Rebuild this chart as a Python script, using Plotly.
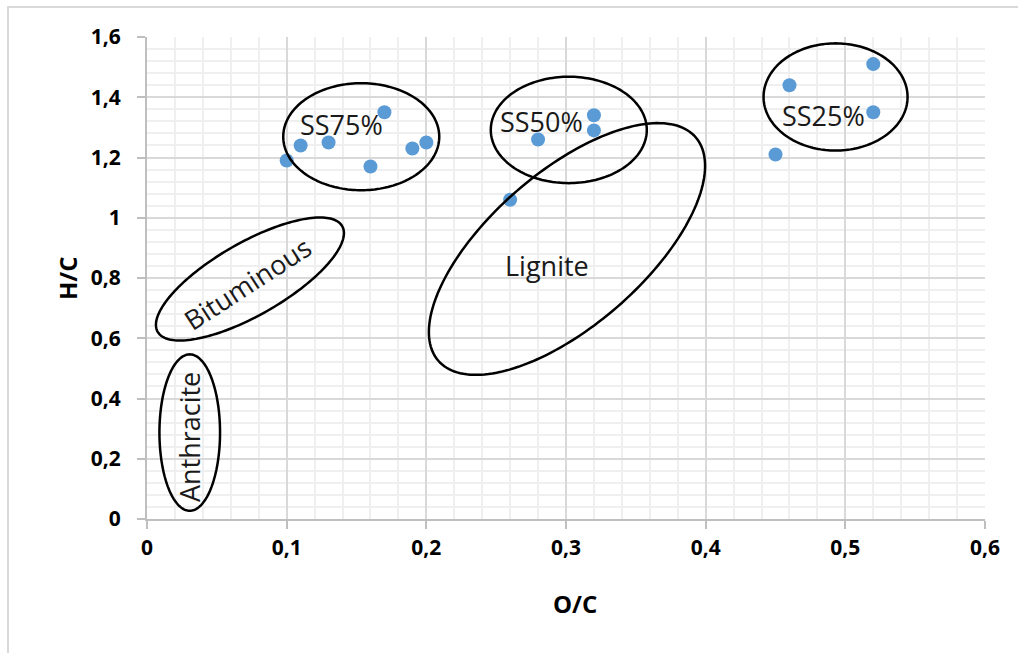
import numpy as np
import plotly.graph_objects as go

# ---- data ----
oc = [0.10, 0.11, 0.13, 0.16, 0.17, 0.19, 0.20, 0.26, 0.28, 0.32, 0.32, 0.45, 0.46, 0.52, 0.52]
hc = [1.19, 1.24, 1.25, 1.17, 1.35, 1.23, 1.25, 1.06, 1.26, 1.34, 1.29, 1.21, 1.44, 1.51, 1.35]

x_tick_vals = [0, 0.1, 0.2, 0.3, 0.4, 0.5, 0.6]
y_tick_vals = [0, 0.2, 0.4, 0.6, 0.8, 1.0, 1.2, 1.4, 1.6]

region_names = ["SS75%", "SS50%", "SS25%", "Lignite", "Bituminous", "Anthracite"]
ell_cx = [0.1534, 0.302, 0.493, 0.3007, 0.0737, 0.0306]
ell_cy = [1.269, 1.2915, 1.401, 0.8963, 0.7967, 0.287]
ell_a_px = [78, 78, 72, 170.4, 106.3, 30.3]
ell_b_px = [53.5, 53.2, 53.6, 76.7, 36.3, 78.2]
ell_angle = [0, 0, 0, 41, 29.8, 0]
label_x = [0.1389, 0.2828, 0.4844, 0.2864, 0.0716, 0.0301]
label_y = [1.311, 1.321, 1.338, 0.843, 0.783, 0.272]
label_angle = [0, 0, 0, 0, -33, -90]

# ---- layout geometry ----
W, H = 1018, 653
ML, MR, MT, MB = 147, 33, 37, 134
XR = [0, 0.6]
YR = [0, 1.6]
PW, PH = W - ML - MR, H - MT - MB
kx = PW / (XR[1] - XR[0])
ky = PH / (YR[1] - YR[0])

FONT = "Open Sans"

fig = go.Figure()
fig.add_trace(go.Scatter(
    x=oc, y=hc, mode="markers",
    marker=dict(size=14, color="#5B9BD5", line=dict(width=0)),
    showlegend=False, cliponaxis=False,
))

shapes = []
t = np.linspace(0, 2 * np.pi, 181)
for cx, cy, a, b, ang in zip(ell_cx, ell_cy, ell_a_px, ell_b_px, ell_angle):
    th = np.deg2rad(ang)
    dx = a * np.cos(t) * np.cos(th) - b * np.sin(t) * np.sin(th)
    dy = a * np.cos(t) * np.sin(th) + b * np.sin(t) * np.cos(th)
    xs = cx + dx / kx
    ys = cy + dy / ky
    path = "M " + " L ".join(f"{x:.5f},{y:.5f}" for x, y in zip(xs, ys)) + " Z"
    shapes.append(dict(type="path", xref="x", yref="y", path=path,
                       line=dict(color="#000000", width=2.5), layer="above"))

# outer chart frame
shapes.append(dict(type="rect", xref="paper", yref="paper",
                   x0=(8 - ML) / PW, x1=(W + 20 - ML) / PW,
                   y0=(H - MB - (H + 20)) / PH, y1=(H - MB - 7) / PH,
                   line=dict(color="#d9d9d9", width=2), layer="below"))

annotations = []
for name, lx, ly, la in zip(region_names, label_x, label_y, label_angle):
    annotations.append(dict(x=lx, y=ly, xref="x", yref="y", text=name, showarrow=False,
                            textangle=la, font=dict(family=FONT, size=27, color="#1a1a1a"),
                            xanchor="center", yanchor="middle"))

annotations.append(dict(x=(575 - ML) / PW, y=(H - MB - 603) / PH,
                        xref="paper", yref="paper", text="O/C", showarrow=False,
                        font=dict(family=FONT, size=24, color="#000000", weight="bold"),
                        xanchor="center", yanchor="middle"))
annotations.append(dict(x=(67 - ML) / PW, y=(H - MB - 278) / PH,
                        xref="paper", yref="paper", text="H/C", showarrow=False, textangle=-90,
                        font=dict(family=FONT, size=24, color="#000000", weight="bold"),
                        xanchor="center", yanchor="middle"))

fig.update_layout(
    width=W, height=H,
    margin=dict(l=ML, r=MR, t=MT, b=MB),
    paper_bgcolor="white", plot_bgcolor="white",
    separators=", ",
    shapes=shapes, annotations=annotations,
    xaxis=dict(range=XR, tickvals=x_tick_vals, showgrid=True, gridcolor="#d9d9d9", gridwidth=1.5,
               minor=dict(dtick=0.02, showgrid=True, gridcolor="#efefef", gridwidth=1.5),
               showline=True, linecolor="#bfbfbf", linewidth=2, ticks="outside", ticklen=8,
               tickcolor="#bfbfbf", tickwidth=2, zeroline=False, ticklabelstandoff=1,
               tickfont=dict(family=FONT, size=21, color="#000000", weight="bold")),
    yaxis=dict(range=YR, tickvals=y_tick_vals, showgrid=True, gridcolor="#d9d9d9", gridwidth=1.5,
               minor=dict(dtick=0.04, showgrid=True, gridcolor="#efefef", gridwidth=1.5),
               showline=True, linecolor="#bfbfbf", linewidth=2, ticks="outside", ticklen=8,
               tickcolor="#bfbfbf", tickwidth=2, zeroline=False, ticklabelstandoff=12,
               tickfont=dict(family=FONT, size=21, color="#000000", weight="bold")),
)

fig.write_html("out.html", config={"displayModeBar": False},
               post_script="document.body.style.margin='0';")
